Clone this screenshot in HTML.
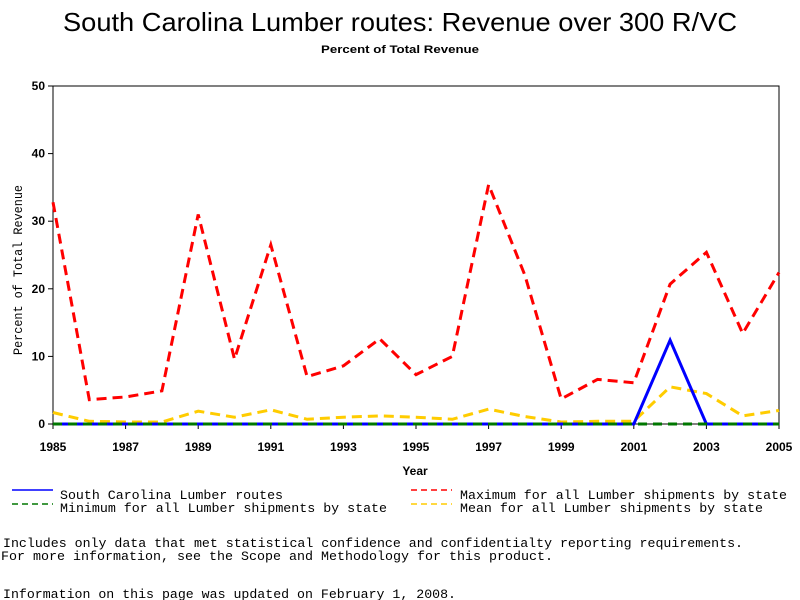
<!DOCTYPE html>
<html><head><meta charset="utf-8"><style>
body{margin:0;background:#fff;}
svg{display:block;}
text{font-family:"Liberation Sans",sans-serif;}
.mono{font-family:"Liberation Mono",monospace;font-size:13px;}
</style></head><body>
<svg id="chart" width="800" height="600" viewBox="0 0 800 600" xmlns="http://www.w3.org/2000/svg">
<text x="400" y="31" font-size="26" text-anchor="middle" textLength="674" lengthAdjust="spacingAndGlyphs">South Carolina Lumber routes: Revenue over 300 R/VC</text>
<text x="400" y="53" font-size="11" font-weight="bold" text-anchor="middle" textLength="158" lengthAdjust="spacingAndGlyphs">Percent of Total Revenue</text>
<rect x="53" y="86" width="726" height="338" fill="none" stroke="#000" stroke-width="1"/>
<g id="yticks"></g>
<g id="xticks"></g>
<text transform="translate(22,270) rotate(-90)" class="mono" font-size="12" text-anchor="middle" textLength="170" lengthAdjust="spacingAndGlyphs">Percent of Total Revenue</text>
<text x="415" y="475" font-size="12" font-weight="bold" text-anchor="middle">Year</text>
<g id="series"></g>
<g>
<line x1="12" y1="490" x2="53" y2="490" stroke="#00f" stroke-width="1.5"/>
<text class="mono" x="60" y="499" textLength="223" lengthAdjust="spacingAndGlyphs">South Carolina Lumber routes</text>
<line x1="411" y1="490" x2="452" y2="490" stroke="#f00" stroke-width="1.5" stroke-dasharray="6,4"/>
<text class="mono" x="460" y="499" textLength="327" lengthAdjust="spacingAndGlyphs">Maximum for all Lumber shipments by state</text>
<line x1="12" y1="504" x2="53" y2="504" stroke="#070" stroke-width="1.5" stroke-dasharray="6,4"/>
<text class="mono" x="60" y="512" textLength="327" lengthAdjust="spacingAndGlyphs">Minimum for all Lumber shipments by state</text>
<line x1="411" y1="504" x2="452" y2="504" stroke="#fc0" stroke-width="1.5" stroke-dasharray="6,4"/>
<text class="mono" x="460" y="512" textLength="303" lengthAdjust="spacingAndGlyphs">Mean for all Lumber shipments by state</text>
</g>
<text class="mono" x="3" y="547" textLength="740" lengthAdjust="spacingAndGlyphs">Includes only data that met statistical confidence and confidentialty reporting requirements.</text>
<text class="mono" x="1" y="560" textLength="552" lengthAdjust="spacingAndGlyphs">For more information, see the Scope and Methodology for this product.</text>
<text class="mono" x="3" y="598" textLength="453" lengthAdjust="spacingAndGlyphs">Information on this page was updated on February 1, 2008.</text>
</svg>
<script>
const years=[1985,1986,1987,1988,1989,1990,1991,1992,1993,1994,1995,1996,1997,1998,1999,2000,2001,2002,2003,2004,2005];
const scValues=[0,0,0,0,0,0,0,0,0,0,0,0,0,0,0,0,0,12.4,0,0,0];
const maxValues=[32.8,3.6,4.0,4.9,31.0,9.6,26.5,7.0,8.6,12.6,7.3,10.0,35.4,22.0,3.7,6.6,6.1,20.7,25.4,13.4,22.4];
const minValues=[0,0,0,0,0,0,0,0,0,0,0,0,0,0,0,0,0,0,0,0,0];
const meanValues=[1.7,0.4,0.3,0.3,1.9,1.0,2.1,0.7,1.0,1.2,1.0,0.7,2.2,1.1,0.3,0.4,0.4,5.5,4.5,1.2,2.0];
const yTicks=[0,10,20,30,40,50];
const xTickLabels=[1985,1987,1989,1991,1993,1995,1997,1999,2001,2003,2005];
const NS='http://www.w3.org/2000/svg';
const X=v=>53+(v-1985)*(726/20);
const Y=v=>424-v*(338/50);
function mk(tag,attrs,parent){const e=document.createElementNS(NS,tag);for(const k in attrs)e.setAttribute(k,attrs[k]);parent.appendChild(e);return e;}
const yg=document.getElementById('yticks');
yTicks.forEach(t=>{
  const l=mk('line',{x1:48,x2:53,y1:Y(t),y2:Y(t),stroke:'#000'},yg);
  
  
  const tx=mk('text',{x:45,y:Y(t)+4,'font-size':12,'font-weight':'bold','text-anchor':'end'},yg);
  tx.textContent=t;
  
  
});
const xg=document.getElementById('xticks');
xTickLabels.forEach(t=>{
  const l=mk('line',{x1:X(t),x2:X(t),y1:424,y2:429,stroke:'#000'},xg);
  
  
  const tx=mk('text',{x:X(t),y:451,'font-size':12,'font-weight':'bold','text-anchor':'middle'},xg);
  tx.textContent=t;
  
  
});
const sg=document.getElementById('series');
function line(vals,color,dash,w,name){
  const pts=vals.map((v,i)=>X(years[i])+','+Y(v)).join(' ');
  const p=mk('polyline',{points:pts,fill:'none',stroke:color,'stroke-width':w,'stroke-dasharray':dash},sg);
  
  
}
line(maxValues,'#f00','10,6',3,'series-max');
line(meanValues,'#fc0','10,6',3,'series-mean');
line(scValues,'#00f','none',3,'series-sc');
line(minValues,'#070','9,6',3,'series-min');
</script>
</body></html>
